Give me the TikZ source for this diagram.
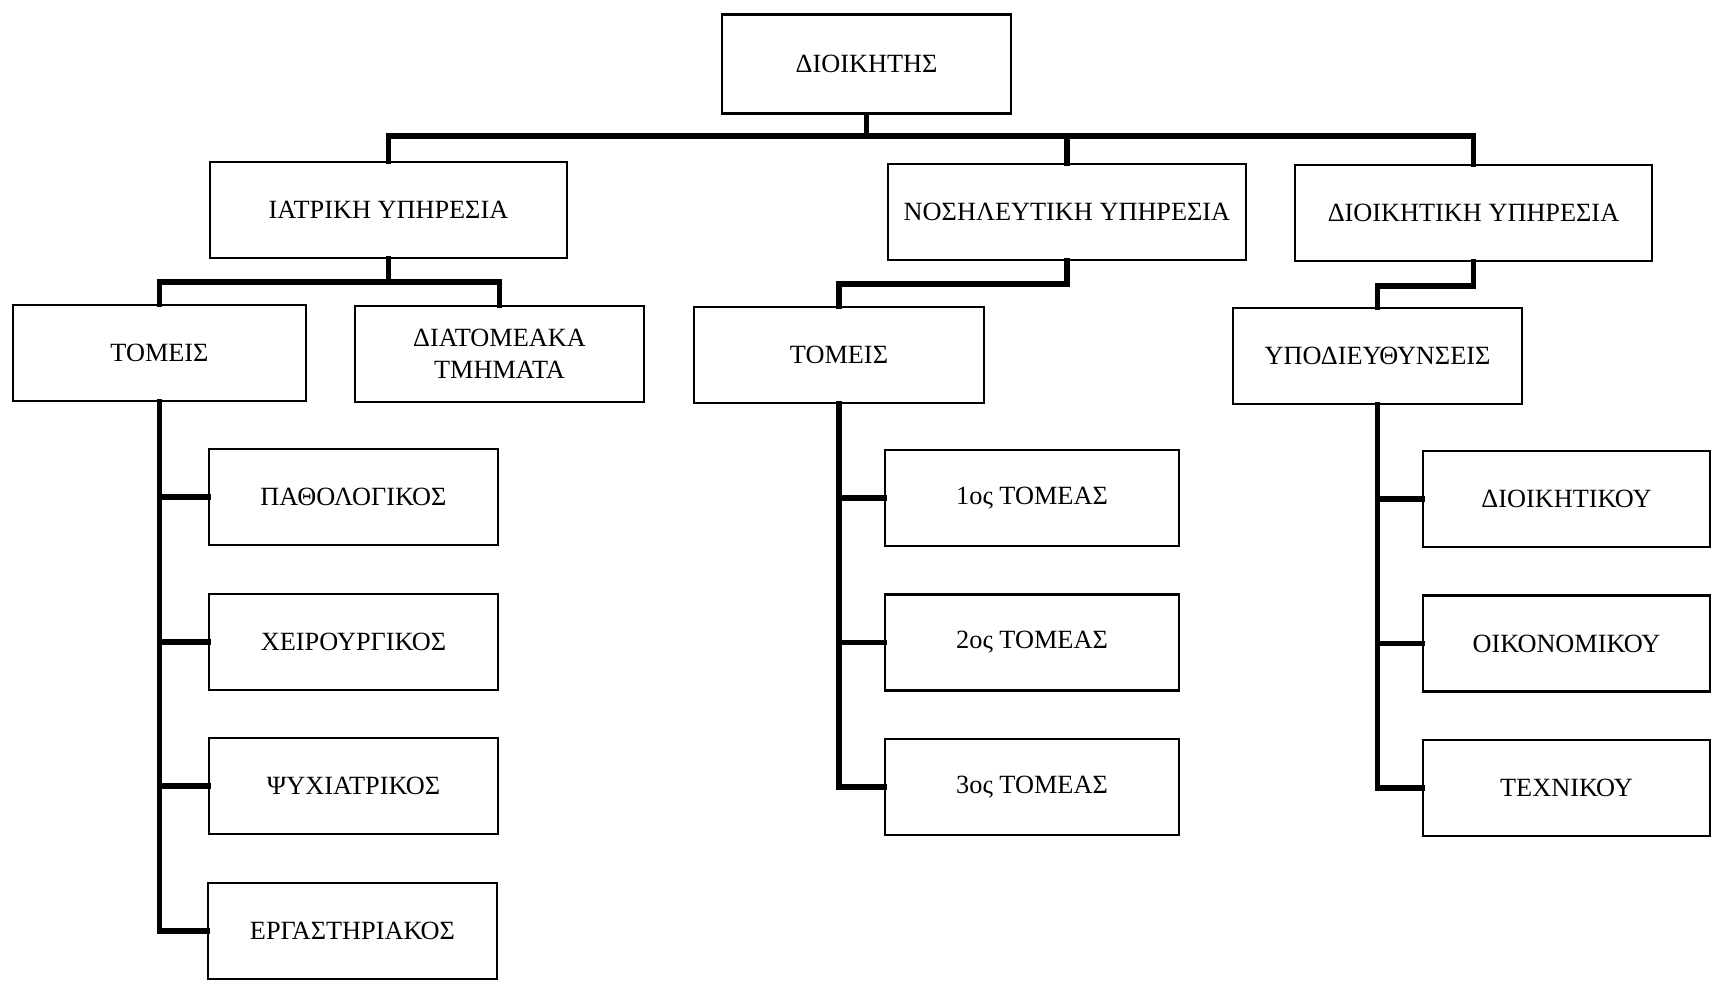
\documentclass[tikz,border=0pt]{standalone}
\usepackage{fontspec}
\setmainfont{Liberation Serif}
\begin{document}
\begin{tikzpicture}[x=1pt,y=-1pt,
  box/.style={draw=black,line width=2.2pt,fill=white,inner sep=0pt,
    minimum height=96pt,align=center,
    font=\fontsize{26.3}{32}\selectfont},
  conn/.style={draw=black,line width=5.5pt,line join=miter,line cap=rect}]
\useasboundingbox (0,0) rectangle (1712,985);

% bus levels of the tree
\coordinate (bus0) at (0,136);
\coordinate (bus1) at (0,282);
\coordinate (bus2) at (0,284);
\coordinate (bus3) at (0,286);

% boxes
\path (866.5,64) node[box,minimum width=289pt,minimum height=99pt] (dir) {ΔΙΟΙΚΗΤΗΣ};

\path (388.5,210) node[box,minimum width=357pt] (iatr) {ΙΑΤΡΙΚΗ ΥΠΗΡΕΣΙΑ};
\path (1067,212) node[box,minimum width=358pt] (nos) {ΝΟΣΗΛΕΥΤΙΚΗ ΥΠΗΡΕΣΙΑ};
\path (1473.5,213) node[box,minimum width=357pt] (dyp) {ΔΙΟΙΚΗΤΙΚΗ ΥΠΗΡΕΣΙΑ};

\path (159.5,353) node[box,minimum width=293pt] (tomL) {ΤΟΜΕΙΣ};
\path (499.5,354) node[box,minimum width=289pt,font=\fontsize{26.3}{32}\selectfont] (diat) {ΔΙΑΤΟΜΕΑΚΑ\\ΤΜΗΜΑΤΑ};
\path (839,355) node[box,minimum width=290pt] (tomM) {ΤΟΜΕΙΣ};
\path (1377.5,356) node[box,minimum width=289pt] (ypod) {ΥΠΟΔΙΕΥΘΥΝΣΕΙΣ};

\path (353.5,497) node[box,minimum width=289pt] (path) {ΠΑΘΟΛΟΓΙΚΟΣ};
\path (353.5,642) node[box,minimum width=289pt] (xeir) {ΧΕΙΡΟΥΡΓΙΚΟΣ};
\path (353.5,786) node[box,minimum width=289pt] (psyx) {ΨΥΧΙΑΤΡΙΚΟΣ};
\path (352.5,931) node[box,minimum width=289pt] (erg) {ΕΡΓΑΣΤΗΡΙΑΚΟΣ};

\path (1032,498) node[box,minimum width=294pt] (t1) {1ος ΤΟΜΕΑΣ};
\path (1032,642.5) node[box,minimum width=294pt] (t2) {2ος ΤΟΜΕΑΣ};
\path (1032,787) node[box,minimum width=294pt] (t3) {3ος ΤΟΜΕΑΣ};

\path (1566.5,499) node[box,minimum width=287pt] (dioik) {ΔΙΟΙΚΗΤΙΚΟΥ};
\path (1566.5,643.5) node[box,minimum width=287pt] (oik) {ΟΙΚΟΝΟΜΙΚΟΥ};
\path (1566.5,788) node[box,minimum width=287pt] (tex) {ΤΕΧΝΙΚΟΥ};

% top level
\draw[conn] (dir.south) -- (dir.south |- bus0);
\draw[conn] (iatr.north) -- (iatr.north |- bus0) -- (dyp.north |- bus0) -- (dyp.north);
\draw[conn] (nos.north) -- (nos.north |- bus0);

% second level
\draw[conn] (iatr.south) -- (iatr.south |- bus1);
\draw[conn] (tomL.north) -- (tomL.north |- bus1) -- (diat.north |- bus1) -- (diat.north);
\draw[conn] (nos.south) -- (nos.south |- bus2) -- (tomM.north |- bus2) -- (tomM.north);
\draw[conn] (dyp.south) -- (dyp.south |- bus3) -- (ypod.north |- bus3) -- (ypod.north);

% third level
\draw[conn] (tomL.south) |- (erg.west);
\draw[conn] (path.west) -- (path.west -| tomL.south);
\draw[conn] (xeir.west) -- (xeir.west -| tomL.south);
\draw[conn] (psyx.west) -- (psyx.west -| tomL.south);

\draw[conn] (tomM.south) |- (t3.west);
\draw[conn] (t1.west) -- (t1.west -| tomM.south);
\draw[conn] (t2.west) -- (t2.west -| tomM.south);

\draw[conn] (ypod.south) |- (tex.west);
\draw[conn] (dioik.west) -- (dioik.west -| ypod.south);
\draw[conn] (oik.west) -- (oik.west -| ypod.south);
\end{tikzpicture}
\end{document}
